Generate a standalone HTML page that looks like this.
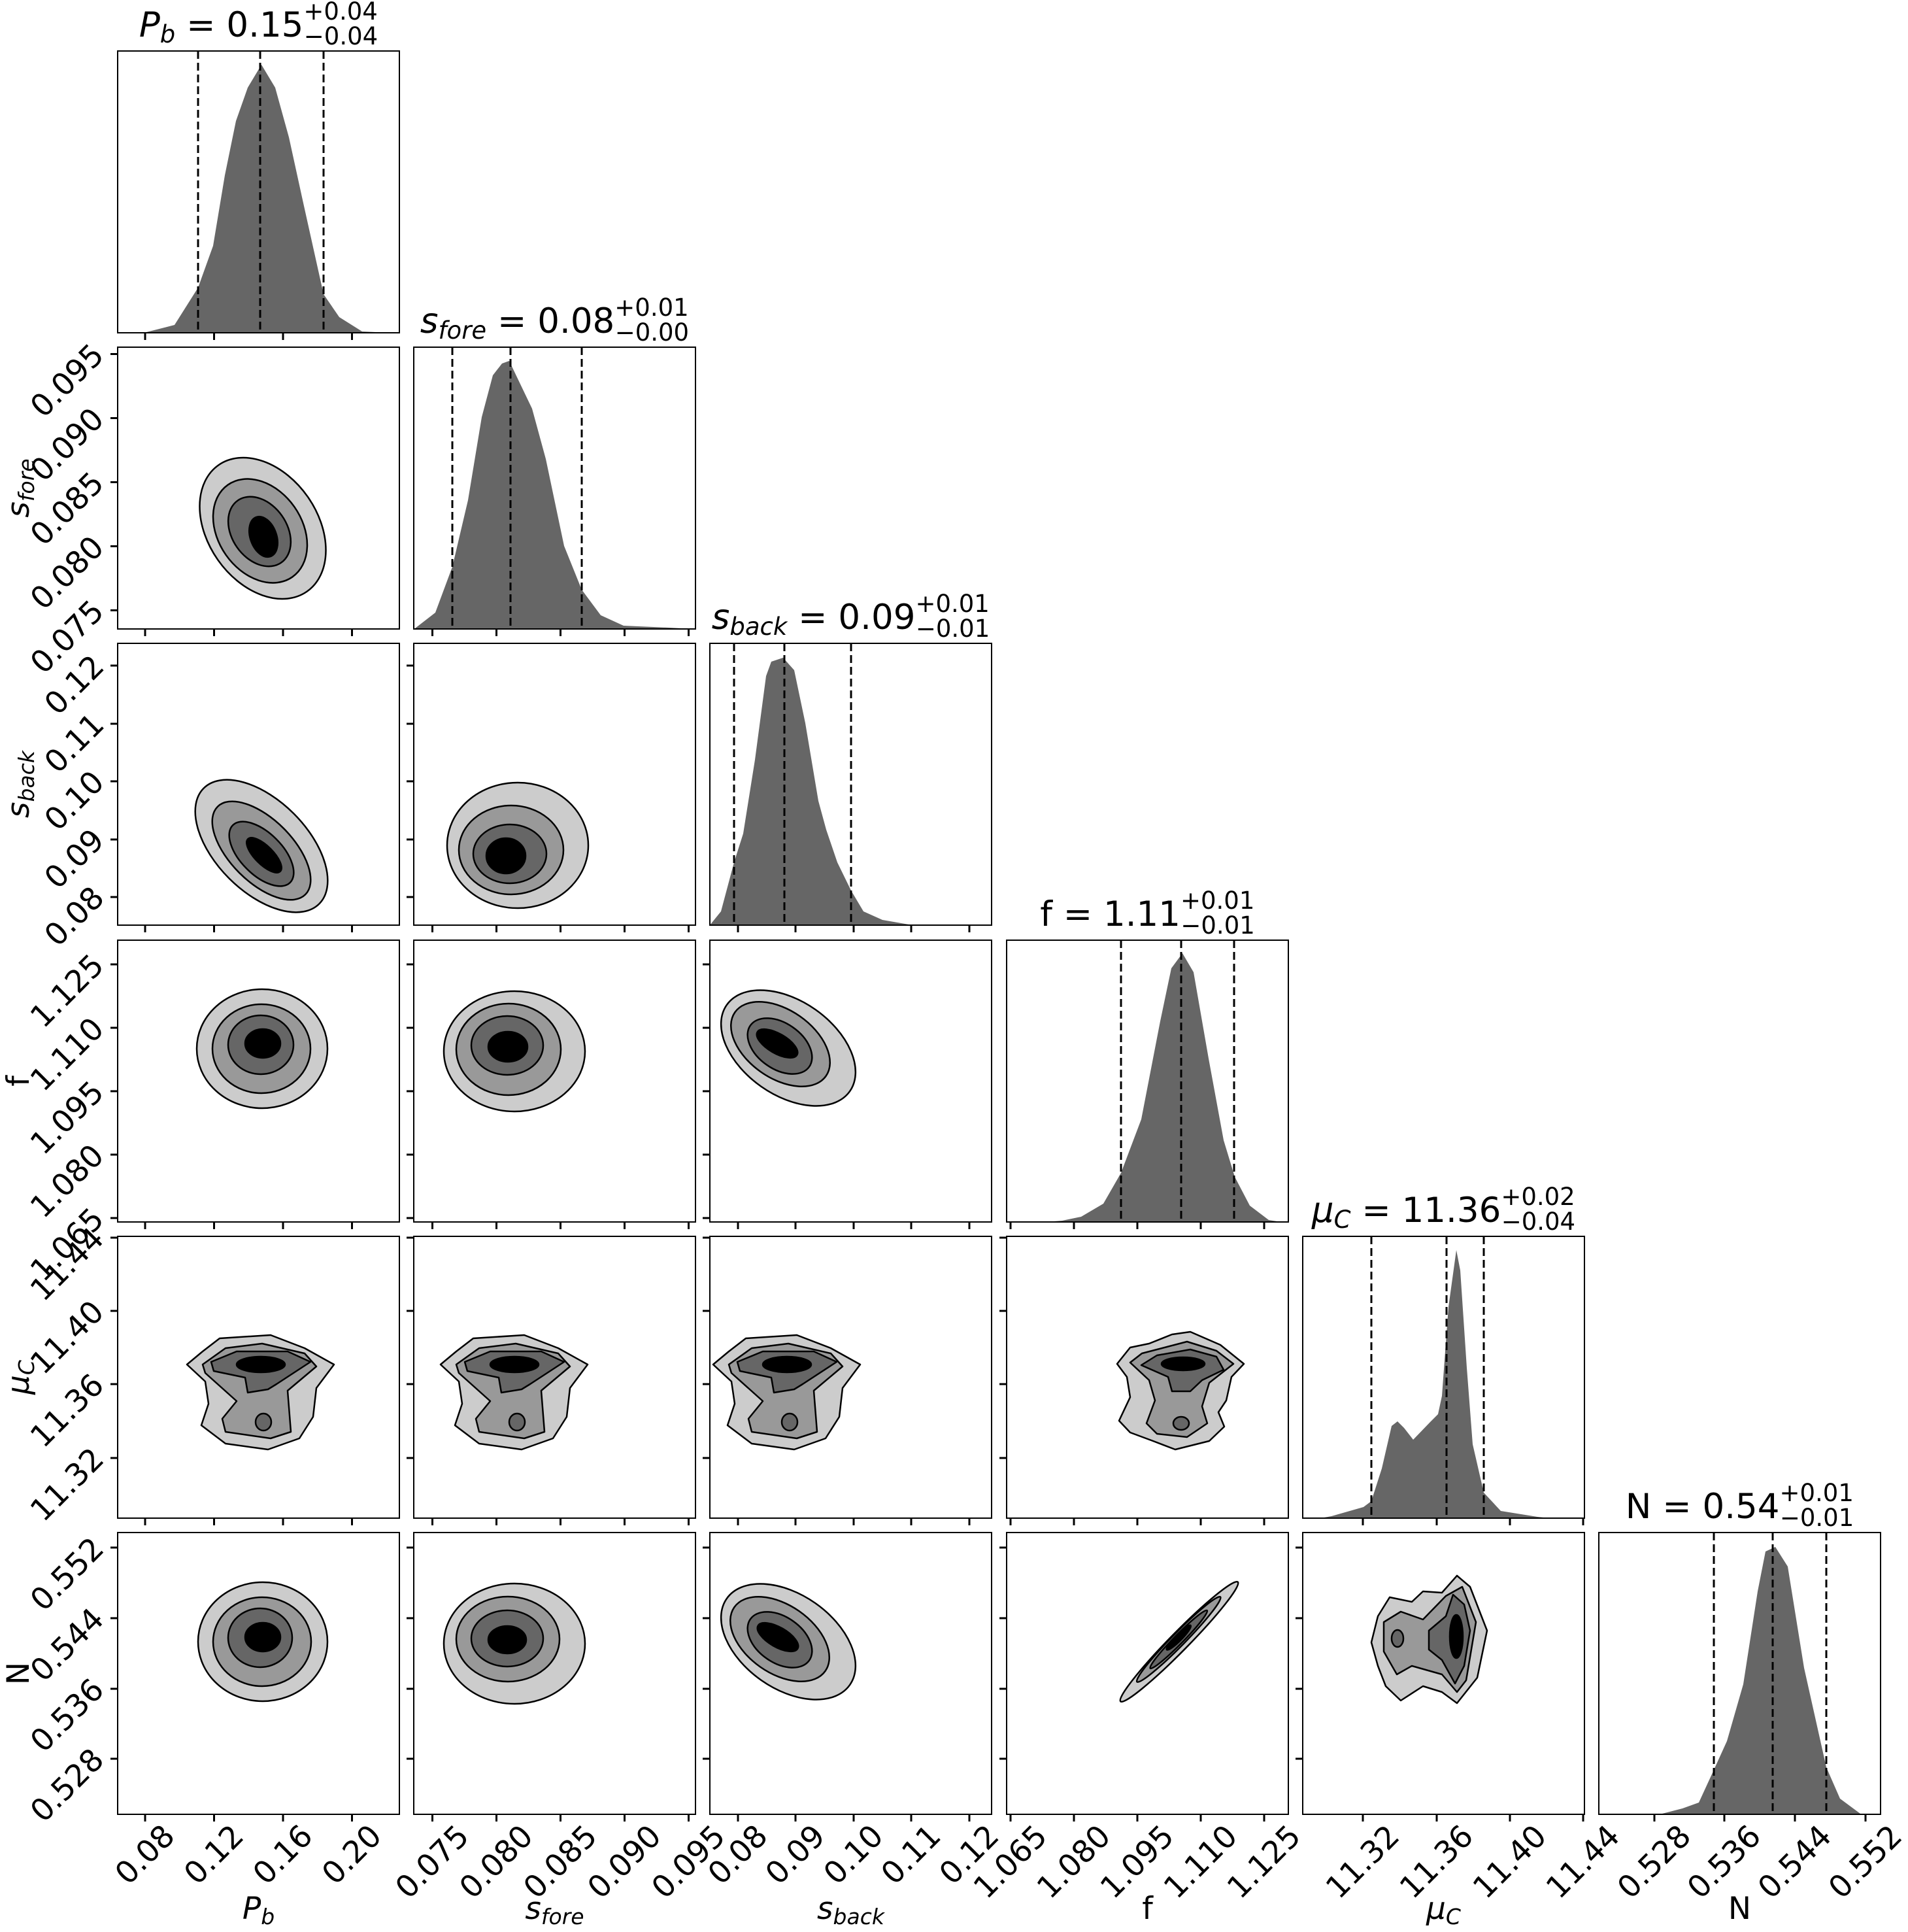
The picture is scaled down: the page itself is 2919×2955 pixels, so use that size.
<!DOCTYPE html>
<html><head><meta charset="utf-8"><style>
html,body{margin:0;padding:0;background:#fff}
svg{display:block}
text{font-family:"DejaVu Sans","Liberation Sans",sans-serif;fill:#000}
.t{font-size:47px}
.tt{font-size:53px}
.c1{fill:#cccccc;stroke:#000;stroke-width:2.5}
.c2{fill:#999999;stroke:#000;stroke-width:2.5}
.c3{fill:#666666;stroke:#000;stroke-width:2.5}
.c4{fill:#000;stroke:#000;stroke-width:2.5}
.h{fill:#666666;stroke:none}
.d{stroke:#000;stroke-width:3;stroke-dasharray:12,6;fill:none}
.f{fill:none;stroke:#000;stroke-width:2}
.k{stroke:#000;stroke-width:3;fill:none}
</style></head><body>
<svg width="2919" height="2955" viewBox="0 0 2919 2955" xmlns="http://www.w3.org/2000/svg" xmlns:xlink="http://www.w3.org/1999/xlink">
<defs>
<path id="xt0" class="k" d="M42 0v11M147.5 0v11M253 0v11M358.5 0v11"/>
<path id="xt1" class="k" d="M28.5 0v11M126.5 0v11M224.5 0v11M322.5 0v11M420.5 0v11"/>
<path id="xt2" class="k" d="M43 0v11M131 0v11M220 0v11M308 0v11M397 0v11"/>
<path id="xt3" class="k" d="M6 0v11M103 0v11M200 0v11M297 0v11M394 0v11"/>
<path id="xt4" class="k" d="M92 0v11M205 0v11M317 0v11M429 0v11"/>
<path id="xt5" class="k" d="M85 0v11M192 0v11M300 0v11M408 0v11"/>
<path id="yt1" class="k" d="M-11 402.5h11M-11 304.5h11M-11 206.5h11M-11 108.5h11M-11 10.5h11"/>
<path id="yt2" class="k" d="M-11 388h11M-11 300h11M-11 211h11M-11 123h11M-11 34h11"/>
<path id="yt3" class="k" d="M-11 425h11M-11 328h11M-11 231h11M-11 134h11M-11 37h11"/>
<path id="yt4" class="k" d="M-11 339h11M-11 226h11M-11 114h11M-11 2h11"/>
<path id="yt5" class="k" d="M-11 346h11M-11 239h11M-11 131h11M-11 23h11"/>
<g id="mu">
<polygon class="c1" stroke-linejoin="round" points="336,2047 414,2042 466,2062 511,2087 484,2123 479,2167 458,2200 410,2217 345,2208 308,2180 319,2147 314,2113 286,2087 310,2067"/>
<polygon class="c2" stroke-linejoin="round" points="310,2087 345,2062 401,2055 466,2070 484,2090 440,2127 445,2190 414,2200 345,2190 340,2170 362,2143 314,2100"/>
<polygon class="c3" stroke-linejoin="round" points="323,2083 362,2067 440,2067 475,2083 423,2117 410,2125 379,2130 375,2107 327,2097"/>
<ellipse class="c3" cx="403" cy="2175" rx="12" ry="13"/>
<ellipse class="c4" cx="399" cy="2087" rx="37" ry="12"/>
</g>
</defs>
<rect width="2919" height="2955" fill="#fff"/>

<polygon class="h" points="180,509 224,508 267,497 303,440 326,376 344,268 361,185 379,134 400,99 421,134 442,210 463,306 495,450 519,485 554,507 596,509"/>
<polygon class="h" points="634,962 635,961 666,937 692,867 716,765 737,638 754,574 768,556 779,552 814,625 835,702 863,835 890,902 919,941 954,957 1024,960 1060,962"/>
<polygon class="h" points="1086,1415 1103,1394 1123,1319 1137,1275 1155,1162 1172,1034 1180,1012 1198,1006 1215,1025 1232,1106 1252,1225 1264,1269 1281,1319 1302,1362 1321,1394 1350,1407 1396,1415 1482,1415"/>
<polygon class="h" points="1600,1869 1625,1867 1654,1861 1688,1841 1715,1794 1746,1712 1775,1562 1792,1481 1809,1458 1826,1487 1849,1619 1872,1744 1889,1800 1912,1844 1941,1866 1960,1869"/>
<polygon class="h" points="2020,2322 2037,2319 2086,2305 2098,2296 2114,2246 2129,2181 2138,2174 2148,2184 2162,2202 2188,2175 2200,2163 2206,2135 2216,1999 2228,1912 2234,1943 2244,2092 2253,2209 2270,2283 2296,2311 2352,2320 2370,2322"/>
<polygon class="h" points="2475,2775 2543,2774 2574,2766 2599,2757 2622,2707 2642,2663 2667,2576 2689,2434 2701,2373 2716,2366 2735,2396 2760,2551 2794,2703 2815,2751 2846,2774 2877,2775"/>

<path class="d" d="M303 78V509M398 78V509M495 78V509"/>
<path class="d" d="M692 531V962M781 531V962M890 531V962"/>
<path class="d" d="M1123 984V1415M1200 984V1415M1302 984V1415"/>
<path class="d" d="M1715 1438V1869M1807 1438V1869M1888 1438V1869"/>
<path class="d" d="M2098 1891V2322M2213 1891V2322M2270 1891V2322"/>
<path class="d" d="M2622 2344V2775M2712 2344V2775M2794 2344V2775"/>

<g transform="rotate(55 402 808)"><ellipse class="c1" cx="402" cy="808" rx="118" ry="84"/></g>
<g transform="rotate(55 398 812)"><ellipse class="c2" cx="398" cy="812" rx="86" ry="64"/></g>
<g transform="rotate(55 397 813)"><ellipse class="c3" cx="397" cy="813" rx="58" ry="42"/></g>
<g transform="rotate(70 403 821)"><ellipse class="c4" cx="403" cy="821" rx="32" ry="20"/></g>

<g transform="rotate(45 400 1294)"><ellipse class="c1" cx="400" cy="1294" rx="125" ry="70"/></g>
<g transform="rotate(45 400 1301)"><ellipse class="c2" cx="400" cy="1301" rx="95" ry="48"/></g>
<g transform="rotate(45 400 1306)"><ellipse class="c3" cx="400" cy="1306" rx="62" ry="32"/></g>
<g transform="rotate(45 404 1308)"><ellipse class="c4" cx="404" cy="1308" rx="35" ry="14"/></g>
<ellipse class="c1" cx="792" cy="1293" rx="108" ry="96"/>
<ellipse class="c2" cx="782" cy="1300" rx="80" ry="68"/>
<ellipse class="c3" cx="780" cy="1306" rx="56" ry="45"/>
<ellipse class="c4" cx="774" cy="1309" rx="30" ry="27"/>

<ellipse class="c1" cx="401" cy="1604" rx="100" ry="91"/>
<ellipse class="c2" cx="400" cy="1604" rx="75" ry="68"/>
<ellipse class="c3" cx="399" cy="1598" rx="50" ry="45"/>
<ellipse class="c4" cx="402" cy="1596" rx="27" ry="22"/>
<ellipse class="c1" cx="787" cy="1608" rx="108" ry="92"/>
<ellipse class="c2" cx="778" cy="1605" rx="80" ry="70"/>
<ellipse class="c3" cx="776" cy="1599" rx="55" ry="45"/>
<ellipse class="c4" cx="777" cy="1601" rx="30" ry="23"/>
<g transform="rotate(35 1206 1603)"><ellipse class="c1" cx="1206" cy="1603" rx="115" ry="72"/></g>
<g transform="rotate(35 1194 1597)"><ellipse class="c2" cx="1194" cy="1597" rx="85" ry="52"/></g>
<g transform="rotate(35 1193 1600)"><ellipse class="c3" cx="1193" cy="1600" rx="55" ry="35"/></g>
<g transform="rotate(30 1189 1596)"><ellipse class="c4" cx="1189" cy="1596" rx="35" ry="15"/></g>

<use href="#mu" xlink:href="#mu"/>
<use href="#mu" xlink:href="#mu" x="388"/>
<use href="#mu" xlink:href="#mu" x="805"/>
<polygon class="c1" stroke-linejoin="round" points="1709,2086 1729,2061 1758,2055 1793,2041 1821,2037 1867,2057 1903,2086 1884,2106 1876,2142 1864,2160 1873,2182 1850,2204 1798,2217 1764,2204 1729,2191 1712,2173 1729,2137 1724,2106"/>
<polygon class="c2" stroke-linejoin="round" points="1729,2084 1747,2070 1816,2052 1861,2066 1887,2086 1850,2115 1839,2151 1847,2177 1816,2198 1770,2193 1754,2177 1767,2142 1758,2111"/>
<polygon class="c3" stroke-linejoin="round" points="1746,2088 1770,2073 1821,2064 1861,2075 1872,2095 1839,2111 1821,2128 1793,2128 1787,2106"/>
<ellipse class="c3" cx="1807" cy="2177" rx="12" ry="10"/>
<ellipse class="c4" cx="1810" cy="2086" rx="33" ry="10"/>

<ellipse class="c1" cx="402" cy="2511" rx="99" ry="91"/>
<ellipse class="c2" cx="401" cy="2511" rx="75" ry="68"/>
<ellipse class="c3" cx="398" cy="2505" rx="49" ry="45"/>
<ellipse class="c4" cx="402" cy="2504" rx="27" ry="22"/>
<ellipse class="c1" cx="787" cy="2514" rx="108" ry="92"/>
<ellipse class="c2" cx="777" cy="2507" rx="79" ry="65"/>
<ellipse class="c3" cx="776" cy="2506" rx="55" ry="43"/>
<ellipse class="c4" cx="776" cy="2508" rx="29" ry="21"/>
<g transform="rotate(35 1206 2511)"><ellipse class="c1" cx="1206" cy="2511" rx="115" ry="72"/></g>
<g transform="rotate(35 1193 2507)"><ellipse class="c2" cx="1193" cy="2507" rx="85" ry="52"/></g>
<g transform="rotate(35 1193 2508)"><ellipse class="c3" cx="1193" cy="2508" rx="55" ry="35"/></g>
<g transform="rotate(30 1190 2504)"><ellipse class="c4" cx="1190" cy="2504" rx="35" ry="15"/></g>
<g transform="rotate(-45.5 1804 2511)">
<ellipse class="c1" cx="1804" cy="2511" rx="128" ry="14"/>
<ellipse class="c2" cx="1806" cy="2508" rx="91" ry="10"/>
<ellipse class="c3" cx="1806" cy="2508" rx="62" ry="7"/>
<ellipse class="c4" cx="1808" cy="2506" rx="26" ry="5"/>
</g>
<polygon class="c1" stroke-linejoin="round" points="2108,2472 2126,2443 2160,2450 2177,2434 2206,2436 2229,2410 2249,2427 2275,2494 2260,2566 2229,2605 2206,2588 2177,2579 2143,2601 2120,2579 2108,2548 2098,2512"/>
<polygon class="c2" stroke-linejoin="round" points="2117,2481 2143,2465 2177,2477 2212,2441 2237,2427 2258,2481 2243,2570 2229,2588 2206,2561 2160,2548 2137,2561 2117,2526"/>
<polygon class="c3" stroke-linejoin="round" points="2186,2494 2212,2472 2223,2439 2240,2454 2249,2494 2240,2548 2226,2575 2206,2539 2186,2523"/>
<ellipse class="c3" cx="2138" cy="2506" rx="9" ry="13"/>
<ellipse class="c4" cx="2228" cy="2503" rx="10" ry="33"/>

<g class="f">
<rect x="180" y="78" width="431" height="431"/>
<rect x="180" y="531" width="431" height="431"/><rect x="633" y="531" width="431" height="431"/>
<rect x="180" y="984" width="431" height="431"/><rect x="633" y="984" width="431" height="431"/><rect x="1086" y="984" width="431" height="431"/>
<rect x="180" y="1438" width="431" height="431"/><rect x="633" y="1438" width="431" height="431"/><rect x="1086" y="1438" width="431" height="431"/><rect x="1540" y="1438" width="431" height="431"/>
<rect x="180" y="1891" width="431" height="431"/><rect x="633" y="1891" width="431" height="431"/><rect x="1086" y="1891" width="431" height="431"/><rect x="1540" y="1891" width="431" height="431"/><rect x="1993" y="1891" width="431" height="431"/>
<rect x="180" y="2344" width="431" height="431"/><rect x="633" y="2344" width="431" height="431"/><rect x="1086" y="2344" width="431" height="431"/><rect x="1540" y="2344" width="431" height="431"/><rect x="1993" y="2344" width="431" height="431"/><rect x="2446" y="2344" width="431" height="431"/>
</g>

<use href="#xt0" xlink:href="#xt0" x="180" y="509"/>
<use href="#xt0" xlink:href="#xt0" x="180" y="962"/><use href="#xt1" xlink:href="#xt1" x="633" y="962"/>
<use href="#xt0" xlink:href="#xt0" x="180" y="1415"/><use href="#xt1" xlink:href="#xt1" x="633" y="1415"/><use href="#xt2" xlink:href="#xt2" x="1086" y="1415"/>
<use href="#xt0" xlink:href="#xt0" x="180" y="1869"/><use href="#xt1" xlink:href="#xt1" x="633" y="1869"/><use href="#xt2" xlink:href="#xt2" x="1086" y="1869"/><use href="#xt3" xlink:href="#xt3" x="1540" y="1869"/>
<use href="#xt0" xlink:href="#xt0" x="180" y="2322"/><use href="#xt1" xlink:href="#xt1" x="633" y="2322"/><use href="#xt2" xlink:href="#xt2" x="1086" y="2322"/><use href="#xt3" xlink:href="#xt3" x="1540" y="2322"/><use href="#xt4" xlink:href="#xt4" x="1993" y="2322"/>
<use href="#xt0" xlink:href="#xt0" x="180" y="2775"/><use href="#xt1" xlink:href="#xt1" x="633" y="2775"/><use href="#xt2" xlink:href="#xt2" x="1086" y="2775"/><use href="#xt3" xlink:href="#xt3" x="1540" y="2775"/><use href="#xt4" xlink:href="#xt4" x="1993" y="2775"/><use href="#xt5" xlink:href="#xt5" x="2446" y="2775"/>
<use href="#yt1" xlink:href="#yt1" x="180" y="531"/>
<use href="#yt2" xlink:href="#yt2" x="180" y="984"/><use href="#yt2" xlink:href="#yt2" x="633" y="984"/>
<use href="#yt3" xlink:href="#yt3" x="180" y="1438"/><use href="#yt3" xlink:href="#yt3" x="633" y="1438"/><use href="#yt3" xlink:href="#yt3" x="1086" y="1438"/>
<use href="#yt4" xlink:href="#yt4" x="180" y="1891"/><use href="#yt4" xlink:href="#yt4" x="633" y="1891"/><use href="#yt4" xlink:href="#yt4" x="1086" y="1891"/><use href="#yt4" xlink:href="#yt4" x="1540" y="1891"/>
<use href="#yt5" xlink:href="#yt5" x="180" y="2344"/><use href="#yt5" xlink:href="#yt5" x="633" y="2344"/><use href="#yt5" xlink:href="#yt5" x="1086" y="2344"/><use href="#yt5" xlink:href="#yt5" x="1540" y="2344"/><use href="#yt5" xlink:href="#yt5" x="1993" y="2344"/>

<g class="t" text-anchor="middle" dominant-baseline="central">
<text transform="translate(222,2837) rotate(-45)">0.08</text>
<text transform="translate(327.5,2837) rotate(-45)">0.12</text>
<text transform="translate(433,2837) rotate(-45)">0.16</text>
<text transform="translate(538.5,2837) rotate(-45)">0.20</text>
<text transform="translate(661.5,2848) rotate(-45)">0.075</text>
<text transform="translate(759.5,2848) rotate(-45)">0.080</text>
<text transform="translate(857.5,2848) rotate(-45)">0.085</text>
<text transform="translate(955.5,2848) rotate(-45)">0.090</text>
<text transform="translate(1053.5,2848) rotate(-45)">0.095</text>
<text transform="translate(1129,2837) rotate(-45)">0.08</text>
<text transform="translate(1217,2837) rotate(-45)">0.09</text>
<text transform="translate(1306,2837) rotate(-45)">0.10</text>
<text transform="translate(1394,2837) rotate(-45)">0.11</text>
<text transform="translate(1483,2837) rotate(-45)">0.12</text>
<text transform="translate(1546,2848) rotate(-45)">1.065</text>
<text transform="translate(1643,2848) rotate(-45)">1.080</text>
<text transform="translate(1740,2848) rotate(-45)">1.095</text>
<text transform="translate(1837,2848) rotate(-45)">1.110</text>
<text transform="translate(1934,2848) rotate(-45)">1.125</text>
<text transform="translate(2085,2848) rotate(-45)">11.32</text>
<text transform="translate(2198,2848) rotate(-45)">11.36</text>
<text transform="translate(2310,2848) rotate(-45)">11.40</text>
<text transform="translate(2422,2848) rotate(-45)">11.44</text>
<text transform="translate(2531,2848) rotate(-45)">0.528</text>
<text transform="translate(2638,2848) rotate(-45)">0.536</text>
<text transform="translate(2746,2848) rotate(-45)">0.544</text>
<text transform="translate(2854,2848) rotate(-45)">0.552</text>
<text transform="translate(103,974.5) rotate(-45)">0.075</text>
<text transform="translate(103,876.5) rotate(-45)">0.080</text>
<text transform="translate(103,778.5) rotate(-45)">0.085</text>
<text transform="translate(103,680.5) rotate(-45)">0.090</text>
<text transform="translate(103,582.5) rotate(-45)">0.095</text>
<text transform="translate(114,1402) rotate(-45)">0.08</text>
<text transform="translate(114,1314) rotate(-45)">0.09</text>
<text transform="translate(114,1225) rotate(-45)">0.10</text>
<text transform="translate(114,1137) rotate(-45)">0.11</text>
<text transform="translate(114,1048) rotate(-45)">0.12</text>
<text transform="translate(103,1904) rotate(-45)">1.065</text>
<text transform="translate(103,1807) rotate(-45)">1.080</text>
<text transform="translate(103,1710) rotate(-45)">1.095</text>
<text transform="translate(103,1613) rotate(-45)">1.110</text>
<text transform="translate(103,1516) rotate(-45)">1.125</text>
<text transform="translate(103,2271) rotate(-45)">11.32</text>
<text transform="translate(103,2158) rotate(-45)">11.36</text>
<text transform="translate(103,2046) rotate(-45)">11.40</text>
<text transform="translate(103,1934) rotate(-45)">11.44</text>
<text transform="translate(103,2731) rotate(-45)">0.528</text>
<text transform="translate(103,2624) rotate(-45)">0.536</text>
<text transform="translate(103,2516) rotate(-45)">0.544</text>
<text transform="translate(103,2408) rotate(-45)">0.552</text>
</g>

<g class="t" text-anchor="middle">
<text x="395.5" y="2935"><tspan font-style="italic">P</tspan><tspan font-style="italic" font-size="33" dy="8">b</tspan></text>
<text x="848.5" y="2935"><tspan font-style="italic">s</tspan><tspan font-style="italic" font-size="33" dy="8">fore</tspan></text>
<text x="1301.5" y="2935"><tspan font-style="italic">s</tspan><tspan font-style="italic" font-size="33" dy="8">back</tspan></text>
<text x="1755.5" y="2935">f</text>
<text x="2208.5" y="2935"><tspan font-style="italic">μ</tspan><tspan font-style="italic" font-size="33" dy="8">C</tspan></text>
<text x="2661.5" y="2935">N</text>
<text transform="translate(44,746.5) rotate(-90)"><tspan font-style="italic">s</tspan><tspan font-style="italic" font-size="33" dy="8">fore</tspan></text>
<text transform="translate(44,1199.5) rotate(-90)"><tspan font-style="italic">s</tspan><tspan font-style="italic" font-size="33" dy="8">back</tspan></text>
<text transform="translate(44,1653.5) rotate(-90)">f</text>
<text transform="translate(44,2106.5) rotate(-90)"><tspan font-style="italic">μ</tspan><tspan font-style="italic" font-size="33" dy="8">C</tspan></text>
<text transform="translate(44,2559.5) rotate(-90)">N</text>
</g>

<g class="tt" text-anchor="middle">
<text x="395.5" y="56"><tspan font-style="italic">P</tspan><tspan font-style="italic" font-size="37" dy="9">b</tspan><tspan dy="-9"> = 0.15</tspan><tspan font-size="37" dy="-26">+0.04</tspan><tspan font-size="37" dx="-113" dy="38">−0.04</tspan></text>
<text x="848.5" y="509"><tspan font-style="italic">s</tspan><tspan font-style="italic" font-size="37" dy="9">fore</tspan><tspan dy="-9"> = 0.08</tspan><tspan font-size="37" dy="-26">+0.01</tspan><tspan font-size="37" dx="-113" dy="38">−0.00</tspan></text>
<text x="1301.5" y="962"><tspan font-style="italic">s</tspan><tspan font-style="italic" font-size="37" dy="9">back</tspan><tspan dy="-9"> = 0.09</tspan><tspan font-size="37" dy="-26">+0.01</tspan><tspan font-size="37" dx="-113" dy="38">−0.01</tspan></text>
<text x="1755.5" y="1416">f = 1.11<tspan font-size="37" dy="-26">+0.01</tspan><tspan font-size="37" dx="-113" dy="38">−0.01</tspan></text>
<text x="2208.5" y="1869"><tspan font-style="italic">μ</tspan><tspan font-style="italic" font-size="37" dy="9">C</tspan><tspan dy="-9"> = 11.36</tspan><tspan font-size="37" dy="-26">+0.02</tspan><tspan font-size="37" dx="-113" dy="38">−0.04</tspan></text>
<text x="2661.5" y="2322">N = 0.54<tspan font-size="37" dy="-26">+0.01</tspan><tspan font-size="37" dx="-113" dy="38">−0.01</tspan></text>
</g>
</svg>
</body></html>
